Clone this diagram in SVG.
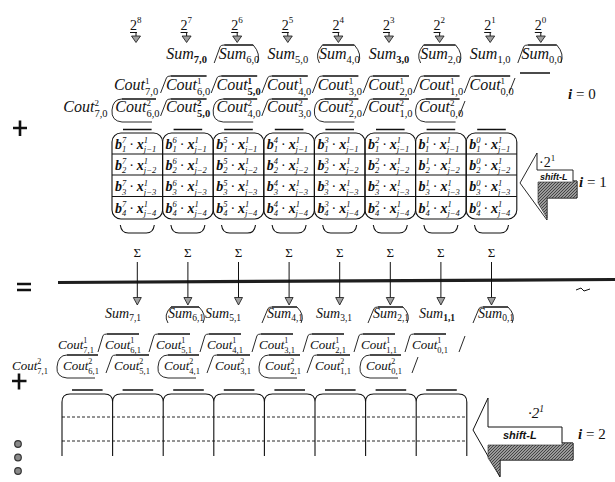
<svg xmlns="http://www.w3.org/2000/svg" width="615" height="482" viewBox="0 0 615 482">
<defs>
<pattern id="hatch" width="3" height="3" patternUnits="userSpaceOnUse"><rect width="3" height="3" fill="#9a9a9a"/><path d="M0,3 L3,0" stroke="#3a3a3a" stroke-width="0.9"/></pattern>
<style>
text{font-family:"Liberation Serif","Times New Roman",serif;fill:#111}
.T{font-size:16px;font-style:italic}
.B{font-size:14px;font-style:italic}
.C{font-size:13px;font-style:italic}
.sb{font-size:10.5px;font-style:normal}
.sp{font-size:9px;font-style:normal}
.s9{font-size:9.5px;font-style:normal}
.s8{font-size:8.5px;font-style:normal}
.s7{font-size:8px;font-style:normal}
.bd{font-weight:bold}
.m text{font-size:14px}
.v{font-style:italic;font-weight:bold}
.p{font-size:8.5px;font-style:italic}
.br{fill:none;stroke:#111;stroke-width:0.9}
.ov{fill:none;stroke:#111;stroke-width:1.4}
.grid{fill:none;stroke:#111;stroke-width:1.1}
.ah{fill:#a0a0a0;stroke:#111;stroke-width:0.8}
.ln{fill:none;stroke:#111;stroke-width:1}
.pw{font-size:14px}
.pws{font-size:9px}
.sym{fill:none;stroke:#111;stroke-width:2.6}
.lbl{font-size:15px}
.sg{font-size:13px}
.sh{font-family:"Liberation Sans",Arial,sans-serif;font-weight:bold;font-style:italic}
.dash{fill:none;stroke:#111;stroke-width:0.9;stroke-dasharray:3 2}
</style>
</defs>
<rect width="615" height="482" fill="#fff"/>

<g id="powers">
<text class="pw" x="130" y="30">2<tspan class="pws" dy="-7">8</tspan></text>
<text class="pw" x="180.6" y="30">2<tspan class="pws" dy="-7">7</tspan></text>
<text class="pw" x="231.2" y="30">2<tspan class="pws" dy="-7">6</tspan></text>
<text class="pw" x="281.8" y="30">2<tspan class="pws" dy="-7">5</tspan></text>
<text class="pw" x="332.4" y="30">2<tspan class="pws" dy="-7">4</tspan></text>
<text class="pw" x="383" y="30">2<tspan class="pws" dy="-7">3</tspan></text>
<text class="pw" x="433.6" y="30">2<tspan class="pws" dy="-7">2</tspan></text>
<text class="pw" x="484.2" y="30">2<tspan class="pws" dy="-7">1</tspan></text>
<text class="pw" x="534.8" y="30">2<tspan class="pws" dy="-7">0</tspan></text>
</g>

<g id="sum-i0">
<path class="br" d="M214.2,63 L220.2,46.5 Q221.2,45 224.2,45 M253.2,45 Q261.2,54 257.2,63 M319.4,63 Q314.4,54 322.4,45 M354.4,45 Q362.4,54 358.4,63 M420.6,63 Q415.6,54 423.6,45 M455.6,45 Q463.6,54 459.6,63 M517.8,63 L523.8,46.5 Q524.8,45 527.8,45 M556.8,45 Q564.8,54 560.8,63"/>
<path class="ov" d="M224.2,45 H253.2 M322.4,45 H354.4 M423.6,45 H455.6 M527.8,45 H556.8"/>
<text class="T" x="186.6" y="59" text-anchor="middle">Sum<tspan class="sb bd" dy="3.5">7,0</tspan></text>
<text class="T" x="239" y="59" text-anchor="middle">Sum<tspan class="sb" dy="3.5">6,0</tspan></text>
<text class="T" x="287.8" y="59" text-anchor="middle">Sum<tspan class="sb" dy="3.5">5,0</tspan></text>
<text class="T" x="339.4" y="59" text-anchor="middle">Sum<tspan class="sb" dy="3.5">4,0</tspan></text>
<text class="T" x="389" y="59" text-anchor="middle">Sum<tspan class="sb bd" dy="3.5">3,0</tspan></text>
<text class="T" x="440.6" y="59" text-anchor="middle">Sum<tspan class="sb" dy="3.5">2,0</tspan></text>
<text class="T" x="490.2" y="59" text-anchor="middle">Sum<tspan class="sb" dy="3.5">1,0</tspan></text>
<text class="T" x="541.8" y="59" text-anchor="middle">Sum<tspan class="sb" dy="3.5">0,0</tspan></text>
</g>

<g id="cout1-i0">
<path class="br" d="M160.6,93 L166.6,77.5 Q167.6,76 170.6,76 M211.2,93 L217.2,77.5 Q218.2,76 221.2,76 M261.8,93 L267.8,77.5 Q268.8,76 271.8,76 M312.4,93 L318.4,77.5 Q319.4,76 322.4,76 M363,93 L369,77.5 Q370,76 373,76 M413.6,93 L419.6,77.5 Q420.6,76 423.6,76 M464.2,93 L470.2,77.5 Q471.2,76 474.2,76 M509,93 L515,78"/>
<path class="ov" d="M170.6,76 H206.6 M221.2,76 H257.2 M271.8,76 H307.8 M322.4,76 H358.4 M373,76 H409 M423.6,76 H459.6 M474.2,76 H510.2 M520,73 H550"/>
<text class="T" x="136" y="90" text-anchor="middle">Cout<tspan class="sp" dy="-6">1</tspan><tspan class="sb" dx="-4.5" dy="11">7,0</tspan></text>
<text class="T" x="188" y="90" text-anchor="middle">Cout<tspan class="sp" dy="-6">1</tspan><tspan class="sb" dx="-4.5" dy="11">6,0</tspan></text>
<text class="T" x="238.6" y="90" text-anchor="middle">Cout<tspan class="sp bd" dy="-6">1</tspan><tspan class="sb bd" dx="-4.5" dy="11">5,0</tspan></text>
<text class="T" x="289.2" y="90" text-anchor="middle">Cout<tspan class="sp" dy="-6">1</tspan><tspan class="sb" dx="-4.5" dy="11">4,0</tspan></text>
<text class="T" x="339.8" y="90" text-anchor="middle">Cout<tspan class="sp" dy="-6">1</tspan><tspan class="sb" dx="-4.5" dy="11">3,0</tspan></text>
<text class="T" x="390.4" y="90" text-anchor="middle">Cout<tspan class="sp" dy="-6">1</tspan><tspan class="sb" dx="-4.5" dy="11">2,0</tspan></text>
<text class="T" x="441" y="90" text-anchor="middle">Cout<tspan class="sp" dy="-6">1</tspan><tspan class="sb" dx="-4.5" dy="11">1,0</tspan></text>
<text class="T" x="491.6" y="90" text-anchor="middle">Cout<tspan class="sp" dy="-6">1</tspan><tspan class="sb" dx="-4.5" dy="11">0,0</tspan></text>
</g>

<g id="cout2-i0">
<path class="br" d="M152,122 L122,122 Q111,121 112,110 Q113,99 122,99 M253.2,122 L223.2,122 Q212.2,121 213.2,110 Q214.2,99 223.2,99 M354.4,122 L324.4,122 Q313.4,121 314.4,110 Q315.4,99 324.4,99 M455.6,122 L425.6,122 Q414.6,121 415.6,110 Q416.6,99 425.6,99 M160.6,116 L166.6,100.5 Q167.6,99 170.6,99 M261.8,116 L267.8,100.5 Q268.8,99 271.8,99 M363,116 L369,100.5 Q370,99 373,99 M459,116 L465,101"/>
<path class="ov" d="M122,99 H156 M170.6,99 H206.6 M223.2,99 H257.2 M271.8,99 H307.8 M324.4,99 H358.4 M373,99 H409 M425.6,99 H459.6"/>
<text class="T" x="85.4" y="112" text-anchor="middle">Cout<tspan class="sp" dy="-6">2</tspan><tspan class="sb" dx="-4.5" dy="11">7,0</tspan></text>
<text class="T" x="137.4" y="112" text-anchor="middle">Cout<tspan class="sp" dy="-6">2</tspan><tspan class="sb" dx="-4.5" dy="11">6,0</tspan></text>
<text class="T" x="188" y="112" text-anchor="middle">Cout<tspan class="sp bd" dy="-6">2</tspan><tspan class="sb bd" dx="-4.5" dy="11">5,0</tspan></text>
<text class="T" x="238.6" y="112" text-anchor="middle">Cout<tspan class="sp" dy="-6">2</tspan><tspan class="sb" dx="-4.5" dy="11">4,0</tspan></text>
<text class="T" x="289.2" y="112" text-anchor="middle">Cout<tspan class="sp" dy="-6">2</tspan><tspan class="sb" dx="-4.5" dy="11">3,0</tspan></text>
<text class="T" x="339.8" y="112" text-anchor="middle">Cout<tspan class="sp" dy="-6">2</tspan><tspan class="sb" dx="-4.5" dy="11">2,0</tspan></text>
<text class="T" x="390.4" y="112" text-anchor="middle">Cout<tspan class="sp" dy="-6">2</tspan><tspan class="sb" dx="-4.5" dy="11">1,0</tspan></text>
<text class="T" x="441" y="112" text-anchor="middle">Cout<tspan class="sp" dy="-6">2</tspan><tspan class="sb" dx="-4.5" dy="11">0,0</tspan></text>
</g>

<g id="matrix-i1">
<path class="ov" d="M123,129.5 H151.6 M173.6,129.5 H202.2 M224.2,129.5 H252.8 M274.8,129.5 H303.4 M325.4,129.5 H354 M376,129.5 H404.6 M426.6,129.5 H455.2 M477.2,129.5 H505.8"/>
<rect class="grid" x="112" y="133" width="50.6" height="86" rx="9"/>
<rect class="grid" x="162.6" y="133" width="50.6" height="86" rx="9"/>
<rect class="grid" x="213.2" y="133" width="50.6" height="86" rx="9"/>
<rect class="grid" x="263.8" y="133" width="50.6" height="86" rx="9"/>
<rect class="grid" x="314.4" y="133" width="50.6" height="86" rx="9"/>
<rect class="grid" x="365" y="133" width="50.6" height="86" rx="9"/>
<rect class="grid" x="415.6" y="133" width="50.6" height="86" rx="9"/>
<rect class="grid" x="466.2" y="133" width="50.6" height="86" rx="9"/>
<path class="grid" d="M112,154 H516.8 M112,175 H516.8 M112,196.5 H516.8"/>
<path class="br" style="stroke-width:1.1" d="M120.3,225 Q121.3,233 128.3,233 H146.3 Q153.3,233 154.3,225 M170.9,225 Q171.9,233 178.9,233 H196.9 Q203.9,233 204.9,225 M221.5,225 Q222.5,233 229.5,233 H247.5 Q254.5,233 255.5,225 M272.1,225 Q273.1,233 280.1,233 H298.1 Q305.1,233 306.1,225 M322.7,225 Q323.7,233 330.7,233 H348.7 Q355.7,233 356.7,225 M373.3,225 Q374.3,233 381.3,233 H399.3 Q406.3,233 407.3,225 M423.9,225 Q424.9,233 431.9,233 H449.9 Q456.9,233 457.9,225 M474.5,225 Q475.5,233 482.5,233 H500.5 Q507.5,233 508.5,225"/>
<g class="m">
<text x="115" y="148.5"><tspan class="v">b</tspan><tspan class="p" dy="-5.5">7</tspan><tspan class="p" dx="-4.3" dy="9">1</tspan><tspan dx="3" dy="-3.5">·</tspan><tspan class="v" dx="3">x</tspan><tspan class="p" dy="-5.5">1</tspan><tspan class="p" dx="-4.3" dy="9">j−1</tspan></text>
<text x="165.6" y="148.5"><tspan class="v">b</tspan><tspan class="p" dy="-5.5">6</tspan><tspan class="p" dx="-4.3" dy="9">1</tspan><tspan dx="3" dy="-3.5">·</tspan><tspan class="v" dx="3">x</tspan><tspan class="p" dy="-5.5">1</tspan><tspan class="p" dx="-4.3" dy="9">j−1</tspan></text>
<text x="216.2" y="148.5"><tspan class="v">b</tspan><tspan class="p" dy="-5.5">5</tspan><tspan class="p" dx="-4.3" dy="9">1</tspan><tspan dx="3" dy="-3.5">·</tspan><tspan class="v" dx="3">x</tspan><tspan class="p" dy="-5.5">1</tspan><tspan class="p" dx="-4.3" dy="9">j−1</tspan></text>
<text x="266.8" y="148.5"><tspan class="v">b</tspan><tspan class="p" dy="-5.5">4</tspan><tspan class="p" dx="-4.3" dy="9">1</tspan><tspan dx="3" dy="-3.5">·</tspan><tspan class="v" dx="3">x</tspan><tspan class="p" dy="-5.5">1</tspan><tspan class="p" dx="-4.3" dy="9">j−1</tspan></text>
<text x="317.4" y="148.5"><tspan class="v">b</tspan><tspan class="p" dy="-5.5">3</tspan><tspan class="p" dx="-4.3" dy="9">1</tspan><tspan dx="3" dy="-3.5">·</tspan><tspan class="v" dx="3">x</tspan><tspan class="p" dy="-5.5">1</tspan><tspan class="p" dx="-4.3" dy="9">j−1</tspan></text>
<text x="368" y="148.5"><tspan class="v">b</tspan><tspan class="p" dy="-5.5">2</tspan><tspan class="p" dx="-4.3" dy="9">1</tspan><tspan dx="3" dy="-3.5">·</tspan><tspan class="v" dx="3">x</tspan><tspan class="p" dy="-5.5">1</tspan><tspan class="p" dx="-4.3" dy="9">j−1</tspan></text>
<text x="418.6" y="148.5"><tspan class="v">b</tspan><tspan class="p" dy="-5.5">1</tspan><tspan class="p" dx="-4.3" dy="9">1</tspan><tspan dx="3" dy="-3.5">·</tspan><tspan class="v" dx="3">x</tspan><tspan class="p" dy="-5.5">1</tspan><tspan class="p" dx="-4.3" dy="9">j−1</tspan></text>
<text x="469.2" y="148.5"><tspan class="v">b</tspan><tspan class="p" dy="-5.5">0</tspan><tspan class="p" dx="-4.3" dy="9">1</tspan><tspan dx="3" dy="-3.5">·</tspan><tspan class="v" dx="3">x</tspan><tspan class="p" dy="-5.5">1</tspan><tspan class="p" dx="-4.3" dy="9">j−1</tspan></text>

<text x="115" y="169.5"><tspan class="v">b</tspan><tspan class="p" dy="-5.5">7</tspan><tspan class="p" dx="-4.3" dy="9">2</tspan><tspan dx="3" dy="-3.5">·</tspan><tspan class="v" dx="3">x</tspan><tspan class="p" dy="-5.5">1</tspan><tspan class="p" dx="-4.3" dy="9">j−2</tspan></text>
<text x="165.6" y="169.5"><tspan class="v">b</tspan><tspan class="p" dy="-5.5">6</tspan><tspan class="p" dx="-4.3" dy="9">2</tspan><tspan dx="3" dy="-3.5">·</tspan><tspan class="v" dx="3">x</tspan><tspan class="p" dy="-5.5">1</tspan><tspan class="p" dx="-4.3" dy="9">j−2</tspan></text>
<text x="216.2" y="169.5"><tspan class="v">b</tspan><tspan class="p" dy="-5.5">5</tspan><tspan class="p" dx="-4.3" dy="9">2</tspan><tspan dx="3" dy="-3.5">·</tspan><tspan class="v" dx="3">x</tspan><tspan class="p" dy="-5.5">1</tspan><tspan class="p" dx="-4.3" dy="9">j−2</tspan></text>
<text x="266.8" y="169.5"><tspan class="v">b</tspan><tspan class="p" dy="-5.5">4</tspan><tspan class="p" dx="-4.3" dy="9">2</tspan><tspan dx="3" dy="-3.5">·</tspan><tspan class="v" dx="3">x</tspan><tspan class="p" dy="-5.5">1</tspan><tspan class="p" dx="-4.3" dy="9">j−2</tspan></text>
<text x="317.4" y="169.5"><tspan class="v">b</tspan><tspan class="p" dy="-5.5">3</tspan><tspan class="p" dx="-4.3" dy="9">2</tspan><tspan dx="3" dy="-3.5">·</tspan><tspan class="v" dx="3">x</tspan><tspan class="p" dy="-5.5">1</tspan><tspan class="p" dx="-4.3" dy="9">j−2</tspan></text>
<text x="368" y="169.5"><tspan class="v">b</tspan><tspan class="p" dy="-5.5">2</tspan><tspan class="p" dx="-4.3" dy="9">2</tspan><tspan dx="3" dy="-3.5">·</tspan><tspan class="v" dx="3">x</tspan><tspan class="p" dy="-5.5">1</tspan><tspan class="p" dx="-4.3" dy="9">j−2</tspan></text>
<text x="418.6" y="169.5"><tspan class="v">b</tspan><tspan class="p" dy="-5.5">1</tspan><tspan class="p" dx="-4.3" dy="9">2</tspan><tspan dx="3" dy="-3.5">·</tspan><tspan class="v" dx="3">x</tspan><tspan class="p" dy="-5.5">1</tspan><tspan class="p" dx="-4.3" dy="9">j−2</tspan></text>
<text x="469.2" y="169.5"><tspan class="v">b</tspan><tspan class="p" dy="-5.5">0</tspan><tspan class="p" dx="-4.3" dy="9">2</tspan><tspan dx="3" dy="-3.5">·</tspan><tspan class="v" dx="3">x</tspan><tspan class="p" dy="-5.5">1</tspan><tspan class="p" dx="-4.3" dy="9">j−2</tspan></text>

<text x="115" y="191"><tspan class="v">b</tspan><tspan class="p" dy="-5.5">7</tspan><tspan class="p" dx="-4.3" dy="9">3</tspan><tspan dx="3" dy="-3.5">·</tspan><tspan class="v" dx="3">x</tspan><tspan class="p" dy="-5.5">1</tspan><tspan class="p" dx="-4.3" dy="9">j−3</tspan></text>
<text x="165.6" y="191"><tspan class="v">b</tspan><tspan class="p" dy="-5.5">6</tspan><tspan class="p" dx="-4.3" dy="9">3</tspan><tspan dx="3" dy="-3.5">·</tspan><tspan class="v" dx="3">x</tspan><tspan class="p" dy="-5.5">1</tspan><tspan class="p" dx="-4.3" dy="9">j−3</tspan></text>
<text x="216.2" y="191"><tspan class="v">b</tspan><tspan class="p" dy="-5.5">5</tspan><tspan class="p" dx="-4.3" dy="9">3</tspan><tspan dx="3" dy="-3.5">·</tspan><tspan class="v" dx="3">x</tspan><tspan class="p" dy="-5.5">1</tspan><tspan class="p" dx="-4.3" dy="9">j−3</tspan></text>
<text x="266.8" y="191"><tspan class="v">b</tspan><tspan class="p" dy="-5.5">4</tspan><tspan class="p" dx="-4.3" dy="9">3</tspan><tspan dx="3" dy="-3.5">·</tspan><tspan class="v" dx="3">x</tspan><tspan class="p" dy="-5.5">1</tspan><tspan class="p" dx="-4.3" dy="9">j−3</tspan></text>
<text x="317.4" y="191"><tspan class="v">b</tspan><tspan class="p" dy="-5.5">3</tspan><tspan class="p" dx="-4.3" dy="9">3</tspan><tspan dx="3" dy="-3.5">·</tspan><tspan class="v" dx="3">x</tspan><tspan class="p" dy="-5.5">1</tspan><tspan class="p" dx="-4.3" dy="9">j−3</tspan></text>
<text x="368" y="191"><tspan class="v">b</tspan><tspan class="p" dy="-5.5">2</tspan><tspan class="p" dx="-4.3" dy="9">3</tspan><tspan dx="3" dy="-3.5">·</tspan><tspan class="v" dx="3">x</tspan><tspan class="p" dy="-5.5">1</tspan><tspan class="p" dx="-4.3" dy="9">j−3</tspan></text>
<text x="418.6" y="191"><tspan class="v">b</tspan><tspan class="p" dy="-5.5">1</tspan><tspan class="p" dx="-4.3" dy="9">3</tspan><tspan dx="3" dy="-3.5">·</tspan><tspan class="v" dx="3">x</tspan><tspan class="p" dy="-5.5">1</tspan><tspan class="p" dx="-4.3" dy="9">j−3</tspan></text>
<text x="469.2" y="191"><tspan class="v">b</tspan><tspan class="p" dy="-5.5">0</tspan><tspan class="p" dx="-4.3" dy="9">3</tspan><tspan dx="3" dy="-3.5">·</tspan><tspan class="v" dx="3">x</tspan><tspan class="p" dy="-5.5">1</tspan><tspan class="p" dx="-4.3" dy="9">j−3</tspan></text>

<text x="115" y="212.5"><tspan class="v">b</tspan><tspan class="p" dy="-5.5">7</tspan><tspan class="p" dx="-4.3" dy="9">4</tspan><tspan dx="3" dy="-3.5">·</tspan><tspan class="v" dx="3">x</tspan><tspan class="p" dy="-5.5">1</tspan><tspan class="p" dx="-4.3" dy="9">j−4</tspan></text>
<text x="165.6" y="212.5"><tspan class="v">b</tspan><tspan class="p" dy="-5.5">6</tspan><tspan class="p" dx="-4.3" dy="9">4</tspan><tspan dx="3" dy="-3.5">·</tspan><tspan class="v" dx="3">x</tspan><tspan class="p" dy="-5.5">1</tspan><tspan class="p" dx="-4.3" dy="9">j−4</tspan></text>
<text x="216.2" y="212.5"><tspan class="v">b</tspan><tspan class="p" dy="-5.5">5</tspan><tspan class="p" dx="-4.3" dy="9">4</tspan><tspan dx="3" dy="-3.5">·</tspan><tspan class="v" dx="3">x</tspan><tspan class="p" dy="-5.5">1</tspan><tspan class="p" dx="-4.3" dy="9">j−4</tspan></text>
<text x="266.8" y="212.5"><tspan class="v">b</tspan><tspan class="p" dy="-5.5">4</tspan><tspan class="p" dx="-4.3" dy="9">4</tspan><tspan dx="3" dy="-3.5">·</tspan><tspan class="v" dx="3">x</tspan><tspan class="p" dy="-5.5">1</tspan><tspan class="p" dx="-4.3" dy="9">j−4</tspan></text>
<text x="317.4" y="212.5"><tspan class="v">b</tspan><tspan class="p" dy="-5.5">3</tspan><tspan class="p" dx="-4.3" dy="9">4</tspan><tspan dx="3" dy="-3.5">·</tspan><tspan class="v" dx="3">x</tspan><tspan class="p" dy="-5.5">1</tspan><tspan class="p" dx="-4.3" dy="9">j−4</tspan></text>
<text x="368" y="212.5"><tspan class="v">b</tspan><tspan class="p" dy="-5.5">2</tspan><tspan class="p" dx="-4.3" dy="9">4</tspan><tspan dx="3" dy="-3.5">·</tspan><tspan class="v" dx="3">x</tspan><tspan class="p" dy="-5.5">1</tspan><tspan class="p" dx="-4.3" dy="9">j−4</tspan></text>
<text x="418.6" y="212.5"><tspan class="v">b</tspan><tspan class="p" dy="-5.5">1</tspan><tspan class="p" dx="-4.3" dy="9">4</tspan><tspan dx="3" dy="-3.5">·</tspan><tspan class="v" dx="3">x</tspan><tspan class="p" dy="-5.5">1</tspan><tspan class="p" dx="-4.3" dy="9">j−4</tspan></text>
<text x="469.2" y="212.5"><tspan class="v">b</tspan><tspan class="p" dy="-5.5">0</tspan><tspan class="p" dx="-4.3" dy="9">4</tspan><tspan dx="3" dy="-3.5">·</tspan><tspan class="v" dx="3">x</tspan><tspan class="p" dy="-5.5">1</tspan><tspan class="p" dx="-4.3" dy="9">j−4</tspan></text>
</g>
</g>

<g id="sigma">
<text class="sg" x="137.3" y="257" text-anchor="middle">Σ</text>
<text class="sg" x="187.9" y="257" text-anchor="middle">Σ</text>
<text class="sg" x="238.5" y="257" text-anchor="middle">Σ</text>
<text class="sg" x="289.1" y="257" text-anchor="middle">Σ</text>
<text class="sg" x="339.7" y="257" text-anchor="middle">Σ</text>
<text class="sg" x="390.3" y="257" text-anchor="middle">Σ</text>
<text class="sg" x="440.9" y="257" text-anchor="middle">Σ</text>
<text class="sg" x="491.5" y="257" text-anchor="middle">Σ</text>
</g>

<g id="sum-line">
<path d="M58,282.5 L615,279.5" stroke="#1e1e1e" stroke-width="3.2" fill="none"/>
<path d="M576,290 L581,288 L584,291 L590,289" class="ln"/>
</g>

<g id="connectors">
<path class="ln" d="M130,32.5 H137 M136,32.5 V36 M180.6,32.5 H187.6 M186.6,32.5 V36 M231.2,32.5 H238.2 M237.2,32.5 V36 M281.8,32.5 H288.8 M287.8,32.5 V36 M332.4,32.5 H339.4 M338.4,32.5 V36 M383,32.5 H390 M389,32.5 V36 M433.6,32.5 H440.6 M439.6,32.5 V36 M484.2,32.5 H491.2 M490.2,32.5 V36 M534.8,32.5 H541.8 M540.8,32.5 V36"/>
<polygon class="ah" points="131.5,36 140.5,36 136,42.5"/>
<polygon class="ah" points="182.1,36 191.1,36 186.6,42.5"/>
<polygon class="ah" points="232.7,36 241.7,36 237.2,42.5"/>
<polygon class="ah" points="283.3,36 292.3,36 287.8,42.5"/>
<polygon class="ah" points="333.9,36 342.9,36 338.4,42.5"/>
<polygon class="ah" points="384.5,36 393.5,36 389,42.5"/>
<polygon class="ah" points="435.1,36 444.1,36 439.6,42.5"/>
<polygon class="ah" points="485.7,36 494.7,36 490.2,42.5"/>
<polygon class="ah" points="536.3,36 545.3,36 540.8,42.5"/>
<path class="ln" d="M137.3,262 V297.5 M187.9,262 V297.5 M238.5,262 V297.5 M289.1,262 V297.5 M339.7,262 V297.5 M390.3,262 V297.5 M440.9,262 V297.5 M491.5,262 V297.5"/>
<polygon class="ah" points="133.3,297.5 141.3,297.5 137.3,305"/>
<polygon class="ah" points="183.9,297.5 191.9,297.5 187.9,305"/>
<polygon class="ah" points="234.5,297.5 242.5,297.5 238.5,305"/>
<polygon class="ah" points="285.1,297.5 293.1,297.5 289.1,305"/>
<polygon class="ah" points="335.7,297.5 343.7,297.5 339.7,305"/>
<polygon class="ah" points="386.3,297.5 394.3,297.5 390.3,305"/>
<polygon class="ah" points="436.9,297.5 444.9,297.5 440.9,305"/>
<polygon class="ah" points="487.5,297.5 495.5,297.5 491.5,305"/>
</g>

<g id="sum-i1">
<path class="br" d="M168,323 Q163,315 171,307 M199,307 Q207,315 203,323 M262,323 L268,308.5 Q269,307 272,307 M297,307 Q305,315 301,323 M368,323 L374,308.5 Q375,307 378,307 M403,307 Q411,315 407,323 M473,323 L479,308.5 Q480,307 483,307 M508,307 Q516,315 512,323"/>
<path class="ov" d="M171,307 H199 M272,307 H297 M378,307 H403 M483,307 H508"/>
<text class="B" x="123" y="318" text-anchor="middle">Sum<tspan class="s9" dy="3">7,1</tspan></text>
<text class="B" x="186" y="318" text-anchor="middle">Sum<tspan class="s9" dy="3">6,1</tspan></text>
<text class="B" x="223" y="318" text-anchor="middle">Sum<tspan class="s9" dy="3">5,1</tspan></text>
<text class="B" x="285" y="318" text-anchor="middle">Sum<tspan class="s9" dy="3">4,1</tspan></text>
<text class="B" x="334" y="318" text-anchor="middle">Sum<tspan class="s9" dy="3">3,1</tspan></text>
<text class="B" x="391" y="318" text-anchor="middle">Sum<tspan class="s9" dy="3">2,1</tspan></text>
<text class="B" x="437" y="318" text-anchor="middle">Sum<tspan class="s9 bd" dy="3">1,1</tspan></text>
<text class="B" x="496" y="318" text-anchor="middle">Sum<tspan class="s9" dy="3">0,1</tspan></text>
</g>

<g id="cout1-i1">
<path class="br" d="M98,352 L103,335.5 Q104,334 107,334 M149,352 L154,335.5 Q155,334 158,334 M200,352 L205,335.5 Q206,334 209,334 M252,352 L257,335.5 Q258,334 261,334 M303,352 L308,335.5 Q309,334 312,334 M354,352 L359,335.5 Q360,334 363,334 M405,352 L410,335.5 Q411,334 414,334 M459,352 L465,336"/>
<path class="ov" d="M107,334 H139 M158,334 H190 M209,334 H241 M261,334 H293 M312,334 H344 M363,334 H395 M414,334 H446"/>
<text class="C" x="76" y="349" text-anchor="middle">Cout<tspan class="s7" dy="-6">1</tspan><tspan class="s8" dx="-4" dy="10">7,1</tspan></text>
<text class="C" x="123" y="349" text-anchor="middle">Cout<tspan class="s7" dy="-6">1</tspan><tspan class="s8" dx="-4" dy="10">6,1</tspan></text>
<text class="C" x="174" y="349" text-anchor="middle">Cout<tspan class="s7" dy="-6">1</tspan><tspan class="s8" dx="-4" dy="10">5,1</tspan></text>
<text class="C" x="225" y="349" text-anchor="middle">Cout<tspan class="s7" dy="-6">1</tspan><tspan class="s8" dx="-4" dy="10">4,1</tspan></text>
<text class="C" x="277" y="349" text-anchor="middle">Cout<tspan class="s7" dy="-6">1</tspan><tspan class="s8" dx="-4" dy="10">3,1</tspan></text>
<text class="C" x="328" y="349" text-anchor="middle">Cout<tspan class="s7" dy="-6">1</tspan><tspan class="s8" dx="-4" dy="10">2,1</tspan></text>
<text class="C" x="379" y="349" text-anchor="middle">Cout<tspan class="s7" dy="-6">1</tspan><tspan class="s8" dx="-4" dy="10">1,1</tspan></text>
<text class="C" x="430" y="349" text-anchor="middle">Cout<tspan class="s7" dy="-6">1</tspan><tspan class="s8" dx="-4" dy="10">0,1</tspan></text>
</g>

<g id="cout2-i1">
<path class="br" d="M95,378 L67,378 Q56,377 57,367 Q58,355 67,355 M196,378 L168,378 Q157,377 158,367 Q159,355 168,355 M297,378 L269,378 Q258,377 259,367 Q260,355 269,355 M398,378 L370,378 Q359,377 360,367 Q361,355 370,355 M106,373 L112,356.5 Q113,355 116,355 M207,373 L213,356.5 Q214,355 217,355 M307,373 L313,356.5 Q314,355 317,355 M412,373 L418,357"/>
<path class="ov" d="M67,355 H98 M116,355 H149 M168,355 H199 M217,355 H250 M269,355 H300 M317,355 H350 M370,355 H401"/>
<text class="C" x="30" y="370" text-anchor="middle">Cout<tspan class="s7" dy="-6">2</tspan><tspan class="s8" dx="-4" dy="10">7,1</tspan></text>
<text class="C" x="81" y="370" text-anchor="middle">Cout<tspan class="s7" dy="-6">2</tspan><tspan class="s8" dx="-4" dy="10">6,1</tspan></text>
<text class="C" x="132" y="370" text-anchor="middle">Cout<tspan class="s7" dy="-6">2</tspan><tspan class="s8" dx="-4" dy="10">5,1</tspan></text>
<text class="C" x="182" y="370" text-anchor="middle">Cout<tspan class="s7" dy="-6">2</tspan><tspan class="s8" dx="-4" dy="10">4,1</tspan></text>
<text class="C" x="233" y="370" text-anchor="middle">Cout<tspan class="s7" dy="-6">2</tspan><tspan class="s8" dx="-4" dy="10">3,1</tspan></text>
<text class="C" x="283" y="370" text-anchor="middle">Cout<tspan class="s7" dy="-6">2</tspan><tspan class="s8" dx="-4" dy="10">2,1</tspan></text>
<text class="C" x="333" y="370" text-anchor="middle">Cout<tspan class="s7" dy="-6">2</tspan><tspan class="s8" dx="-4" dy="10">1,1</tspan></text>
<text class="C" x="384" y="370" text-anchor="middle">Cout<tspan class="s7" dy="-6">2</tspan><tspan class="s8" dx="-4" dy="10">0,1</tspan></text>
</g>

<g id="matrix-i2">
<path class="ov" d="M72,390 H102.6 M122.6,390 H153.2 M173.2,390 H203.8 M223.8,390 H254.4 M274.4,390 H305 M325,390 H355.6 M375.6,390 H406.2 M426.2,390 H456.8"/>
<path class="grid" d="M62,456 V402 Q62,394 70,394 H104.6 Q112.6,394 112.6,402 V456 M112.6,402 Q112.6,394 120.6,394 H155.2 Q163.2,394 163.2,402 V456 M163.2,402 Q163.2,394 171.2,394 H205.8 Q213.8,394 213.8,402 V456 M213.8,402 Q213.8,394 221.8,394 H256.4 Q264.4,394 264.4,402 V456 M264.4,402 Q264.4,394 272.4,394 H307 Q315,394 315,402 V456 M315,402 Q315,394 323,394 H357.6 Q365.6,394 365.6,402 V456 M365.6,402 Q365.6,394 373.6,394 H408.2 Q416.2,394 416.2,402 V456 M416.2,402 Q416.2,394 424.2,394 H458.8 Q466.8,394 466.8,402 V456"/>
<path class="dash" d="M62,417 H467 M62,441 H467"/>
</g>

<g id="shift-i1">
<polygon points="520,183 537,153 537,170 573,170 573,181 577,181 577,198 547,198 547,220" fill="#fff" stroke="#111" stroke-width="0.9"/>
<polygon points="538,182 573,182 573,181 577,181 577,198 547,198 547,218 538,203" fill="url(#hatch)" stroke="#222" stroke-width="0.6"/>
<text class="sh" x="540" y="180" font-size="9">shift-L</text>
<text x="539" y="167" font-size="14">·2<tspan font-size="9" dy="-6">1</tspan></text>
<text class="lbl" x="579" y="187"><tspan font-style="italic" font-weight="bold">i</tspan> = 1</text>
</g>

<g id="shift-i2">
<polygon points="473,430 488,398 488,427 562,427 562,443 573,443 573,460 500,460 500,477" fill="#fff" stroke="#111" stroke-width="1"/>
<polygon points="488,445 562,445 562,443 573,443 573,460 500,460 500,476 488,458" fill="url(#hatch)" stroke="#222" stroke-width="0.6"/>
<text class="sh" x="503" y="439" font-size="11">shift-L</text>
<text x="528" y="418" font-size="15" font-style="italic">·2<tspan font-size="9.5" dy="-6.5">1</tspan></text>
<text class="lbl" x="578" y="439"><tspan font-style="italic" font-weight="bold">i</tspan> = 2</text>
</g>

<g id="label-i0">
<text class="lbl" x="568" y="99"><tspan font-style="italic" font-weight="bold">i</tspan> = 0</text>
</g>

<g id="operators">
<path class="sym" d="M13,128 H27 M20,120.5 V136"/>
<path class="sym" d="M17,284 H31 M17,290 H31"/>
<path class="sym" d="M12,381 H26.5 M19,373.5 V389.5"/>
<circle cx="18" cy="444" r="3.3" fill="#8a8a8a" stroke="#333" stroke-width="1.2"/>
<circle cx="18" cy="457.5" r="3.3" fill="#8a8a8a" stroke="#333" stroke-width="1.2"/>
<circle cx="18" cy="471" r="3.3" fill="#8a8a8a" stroke="#333" stroke-width="1.2"/>
</g>
</svg>
